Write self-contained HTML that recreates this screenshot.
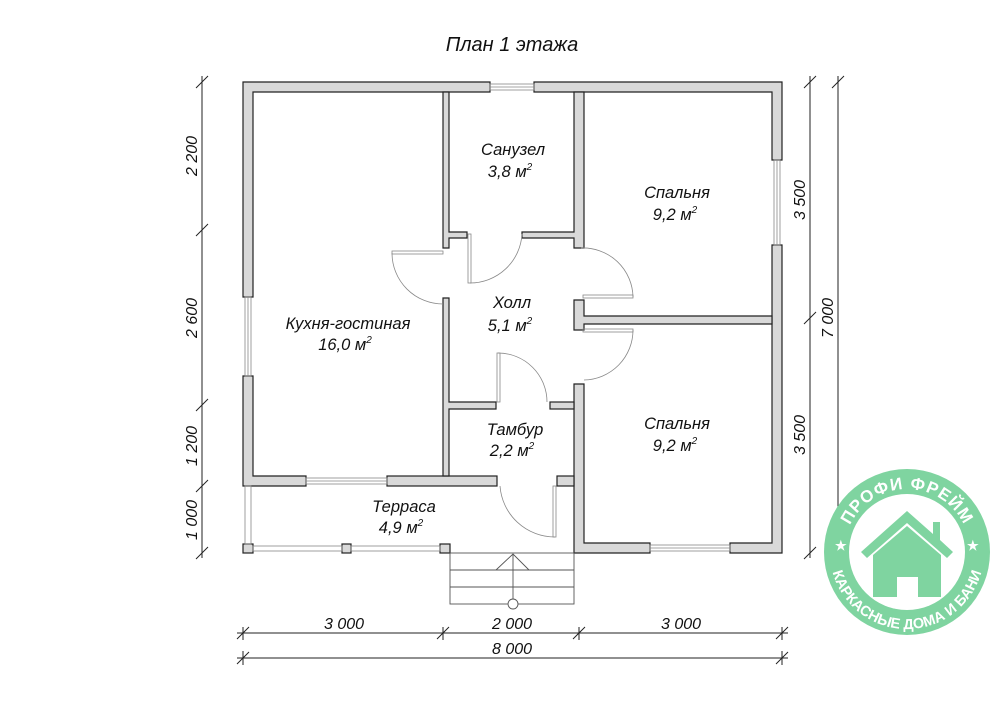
<!DOCTYPE html>
<html><head><meta charset="utf-8"><style>
html,body{margin:0;padding:0;background:#fff;}
svg{display:block;}
text{font-family:"Liberation Sans",sans-serif;font-style:italic;fill:#111;}
text.n{font-style:normal;fill:#fff;font-weight:bold;}
.w{fill:#d9d9d9;stroke:#222;stroke-width:1.2;}
.t{fill:none;stroke:#888;stroke-width:0.8;}
.d{stroke:#222;stroke-width:1;fill:none;}
</style></head><body>
<svg width="1000" height="707" viewBox="0 0 1000 707" xmlns="http://www.w3.org/2000/svg">
<text x="512" y="51" font-size="20" text-anchor="middle">План 1 этажа</text>

<path class="w" d="M243,82 H490 V92 H253 V297 H243 Z"/>
<path class="w" d="M534,82 H782 V160 H772 V92 H534 Z"/>
<path class="w" d="M772,245 H782 V553 H730 V543 H772 Z"/>
<path class="w" d="M574,384 H584 V543 H650 V553 H574 Z"/>
<path class="w" d="M243,376 H253 V476 H306 V486 H243 Z"/>
<rect class="w" x="387" y="476" width="110" height="10"/>
<rect class="w" x="557" y="476" width="17" height="10"/>
<rect class="w" x="243" y="544" width="10" height="9"/>
<rect class="w" x="342" y="544" width="9" height="9"/>
<rect class="w" x="440" y="544" width="10" height="9"/>
<path class="w" d="M443,92 H449 V232 H467 V238 H449 V248 H443 Z"/>
<path class="w" d="M443,298 H449 V402 H496 V409 H449 V476 H443 Z"/>
<path class="w" d="M574,92 H584 V248 H574 V238 H522 V232 H574 Z"/>
<rect class="w" x="550" y="402" width="24" height="7"/>
<path class="w" d="M574,300 H584 V316 H772 V324 H584 V330 H574 Z"/>

<g class="t">
<rect x="490" y="84" width="44" height="6"/><line x1="490" y1="87" x2="534" y2="87"/>
<rect x="774" y="160" width="6" height="85"/><line x1="777" y1="160" x2="777" y2="245"/>
<rect x="245" y="297" width="6" height="79"/><line x1="248" y1="297" x2="248" y2="376"/>
<rect x="306" y="478" width="81" height="6"/><line x1="306" y1="481" x2="387" y2="481"/>
<rect x="650" y="545" width="80" height="6"/><line x1="650" y1="548" x2="730" y2="548"/>
<rect x="245" y="486" width="6" height="58"/>
<rect x="253" y="546" width="89" height="5"/><rect x="351" y="546" width="89" height="5"/>
<rect x="392" y="251" width="51" height="3"/>
<path d="M392,253 A51,51 0 0 0 443,304"/>
<rect x="468" y="234" width="3" height="49"/>
<path d="M470,283 A52,52 0 0 0 522,234"/>
<rect x="583" y="295" width="50" height="3"/>
<path d="M581,248 A50,50 0 0 1 633,297"/>
<rect x="583" y="329" width="50" height="3"/>
<path d="M633,330 A50,50 0 0 1 584,380"/>
<rect x="497" y="353" width="3" height="49"/>
<path d="M498,353 A49,49 0 0 1 547,402"/>
<rect x="553" y="486" width="3" height="51"/>
<path d="M500,486 A55,55 0 0 0 555,537"/>
</g>

<g stroke="#555" stroke-width="0.9" fill="none">
<rect x="450" y="553" width="124" height="51"/>
<line x1="450" y1="570" x2="574" y2="570"/>
<line x1="450" y1="587" x2="574" y2="587"/>
<line x1="513" y1="554" x2="513" y2="599"/>
<polyline points="496,570 513,554 529,570"/>
<circle cx="513" cy="604" r="5" fill="#fff"/>
</g>

<g font-size="16.5" text-anchor="middle">
<text x="513" y="155">Санузел</text><text x="510" y="177">3,8 м<tspan font-size="10" dy="-7">2</tspan></text>
<text x="677" y="198">Спальня</text><text x="675" y="220">9,2 м<tspan font-size="10" dy="-7">2</tspan></text>
<text x="512" y="308">Холл</text><text x="510" y="331">5,1 м<tspan font-size="10" dy="-7">2</tspan></text>
<text x="348" y="329">Кухня-гостиная</text><text x="345" y="350">16,0 м<tspan font-size="10" dy="-7">2</tspan></text>
<text x="515" y="435">Тамбур</text><text x="512" y="456">2,2 м<tspan font-size="10" dy="-7">2</tspan></text>
<text x="677" y="429">Спальня</text><text x="675" y="451">9,2 м<tspan font-size="10" dy="-7">2</tspan></text>
<text x="404" y="512">Терраса</text><text x="401" y="533">4,9 м<tspan font-size="10" dy="-7">2</tspan></text>
</g>

<g class="d">
<line x1="202" y1="76" x2="202" y2="558"/>
<line x1="196" y1="88" x2="208" y2="76"/><line x1="196" y1="236" x2="208" y2="224"/>
<line x1="196" y1="411" x2="208" y2="399"/><line x1="196" y1="492" x2="208" y2="480"/>
<line x1="196" y1="559" x2="208" y2="547"/>
<line x1="810" y1="76" x2="810" y2="558"/>
<line x1="804" y1="88" x2="816" y2="76"/><line x1="804" y1="324" x2="816" y2="312"/>
<line x1="804" y1="559" x2="816" y2="547"/>
<line x1="838" y1="76" x2="838" y2="558"/>
<line x1="832" y1="88" x2="844" y2="76"/><line x1="832" y1="559" x2="844" y2="547"/>
<line x1="237" y1="633" x2="788" y2="633"/>
<line x1="243" y1="627" x2="243" y2="640"/><line x1="443" y1="627" x2="443" y2="640"/>
<line x1="579" y1="627" x2="579" y2="640"/><line x1="782" y1="627" x2="782" y2="640"/>
<line x1="237" y1="639" x2="249" y2="627"/><line x1="437" y1="639" x2="449" y2="627"/>
<line x1="573" y1="639" x2="585" y2="627"/><line x1="776" y1="639" x2="788" y2="627"/>
<line x1="237" y1="658" x2="788" y2="658"/>
<line x1="243" y1="651" x2="243" y2="665"/><line x1="782" y1="651" x2="782" y2="665"/>
<line x1="237" y1="664" x2="249" y2="652"/><line x1="776" y1="664" x2="788" y2="652"/>
</g>
<g font-size="16" text-anchor="middle">
<text x="344" y="629">3 000</text><text x="512" y="629">2 000</text><text x="681" y="629">3 000</text>
<text x="512" y="654">8 000</text>
<text transform="translate(197,156) rotate(-90)">2 200</text>
<text transform="translate(197,318) rotate(-90)">2 600</text>
<text transform="translate(197,446) rotate(-90)">1 200</text>
<text transform="translate(197,520) rotate(-90)">1 000</text>
<text transform="translate(805,200) rotate(-90)">3 500</text>
<text transform="translate(805,435) rotate(-90)">3 500</text>
<text transform="translate(833,318) rotate(-90)">7 000</text>
</g>

<g>
<circle cx="907" cy="552" r="83" fill="#7fd4a0"/>
<circle cx="907" cy="552" r="58" fill="#fff"/>
<defs>
<path id="ta" d="M844,552 A63,63 0 0 1 970,552"/>
<path id="tb" d="M830,552 A77,77 0 0 0 984,552"/>
</defs>
<text class="n" font-size="17" letter-spacing="1"><textPath href="#ta" startOffset="50%" text-anchor="middle">ПРОФИ ФРЕЙМ</textPath></text>
<text class="n" font-size="14.5"><textPath href="#tb" startOffset="50%" text-anchor="middle">КАРКАСНЫЕ ДОМА И БАНИ</textPath></text>
<text class="n" x="835" y="550" font-size="13">★</text>
<text class="n" x="967" y="550" font-size="13">★</text>
<path d="M861,552 L907,511 L933,534 V522 H940 V540 L953,552 L947,558 L907,523 L867,558 Z" fill="#7fd4a0"/>
<path d="M873,555 L907,526 L941,555 V597 H918 V577 H897 V597 H873 Z" fill="#7fd4a0"/>
</g>
</svg>
</body></html>
